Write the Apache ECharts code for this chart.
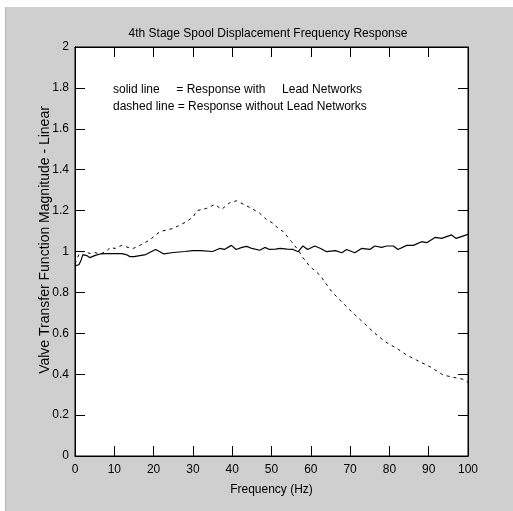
<!DOCTYPE html>
<html><head><meta charset="utf-8">
<script src="https://cdn.jsdelivr.net/npm/echarts@6/dist/echarts.min.js"></script>
<style>html,body{margin:0;padding:0;background:#fff}#c{width:513px;height:511px}</style>
</head><body><div id="c"></div>
<script>
var titleText = '4th Stage Spool Displacement Frequency Response';
var xName = 'Frequency (Hz)';
var yName = 'Valve Transfer Function Magnitude - Linear';
var legendLines = ['solid line     = Response with     Lead Networks', 'dashed line = Response without Lead Networks'];

var freqS = [0,1,1.6,2,3,3.8,5,6.4,8,10,11.9,13,14,15,16.5,18,19,20.5,21.5,22.6,25,28,29.9,32,35,36.8,38,39.8,41,42.5,43.7,45,47,48.3,49.5,51,52.2,54,55.5,56.8,58,59.2,61,62.5,64,66.3,67.9,69.1,71.2,72.9,75,76.3,78,79.3,81,82.2,84.4,86.1,88.2,89.5,91.6,93.3,95.8,97,99.6,100];
var valS = [0.93,0.935,0.96,0.985,0.98,0.97,0.98,0.988,0.99,0.99,0.99,0.985,0.975,0.975,0.98,0.985,0.995,1.01,1.0,0.988,0.995,1.0,1.004,1.004,1.0,1.015,1.01,1.03,1.01,1.02,1.025,1.015,1.006,1.02,1.01,1.012,1.015,1.012,1.01,0.999,1.027,1.01,1.027,1.015,0.999,1.004,0.994,1.01,0.994,1.015,1.01,1.027,1.02,1.027,1.027,1.01,1.03,1.03,1.048,1.043,1.069,1.064,1.081,1.064,1.081,1.085];

var freqD = [0,1.3,2.5,3.8,5,6.4,8,8.9,10.2,11.9,13.5,14.8,16.5,19,21.6,25,28.4,30.1,31,33.5,35.6,37.3,39.4,41.1,43.3,45,47,48.7,50.4,51.7,53,55.1,56.8,58,59.8,62.3,65.3,67.8,70.8,73.4,76.3,78.9,81.8,84.4,86.9,90.3,93.7,96.2,98.8,100];
var valD = [0.94,0.999,1.0,0.99,0.995,0.988,1.0,1.02,1.015,1.03,1.02,1.015,1.03,1.056,1.097,1.113,1.146,1.17,1.2,1.211,1.23,1.206,1.239,1.248,1.227,1.21,1.187,1.157,1.138,1.113,1.097,1.048,1.007,0.97,0.926,0.885,0.804,0.755,0.698,0.652,0.6,0.559,0.527,0.494,0.469,0.437,0.396,0.385,0.375,0.36];

function pairs(xs, ys){ return xs.map(function(x,i){ return [x, ys[i]]; }); }

var font = '"Liberation Sans", Arial, sans-serif';
function axisLine(){ return {show:true, onZero:false, lineStyle:{color:'#000', width:1}}; }
function tick(){ return {show:true, inside:true, length:10, lineStyle:{color:'#000', width:1}}; }

var chart = echarts.init(document.getElementById('c'), null, {renderer:'canvas'});
chart.setOption({
  backgroundColor: '#cfcfcf',
  animation: false,
  title: {
    text: titleText, left: 263, top: 23, textAlign: 'center',
    textStyle: {fontFamily: font, fontWeight: 'normal', fontSize: 12, color: '#000'}
  },
  graphic: [
    {type:'rect', shape:{x:0,y:0,width:513,height:7}, style:{fill:'#fff'}, z:-1, silent:true},
    {type:'rect', shape:{x:0,y:0,width:5,height:511}, style:{fill:'#fff'}, z:-1, silent:true},
    {type:'line', shape:{x1:5.5,y1:7,x2:5.5,y2:511}, style:{stroke:'#b8b8b8'}, z:-1, silent:true},
    {type:'text', left: 113, top: 84, z: 10, style:{text: legendLines[0], font: '12px ' + font, fill:'#000'}},
    {type:'text', left: 113, top: 101, z: 10, style:{text: legendLines[1], font: '12px ' + font, fill:'#000'}},
    {type:'text', x: 45, y: 240, rotation: Math.PI/2, z: 10,
     style:{text: yName, font: '14px ' + font, fill:'#000', textAlign:'center', textVerticalAlign:'middle'}}
  ],
  grid: {left: 75, right: 45, top: 47, bottom: 55, show: true, backgroundColor: '#fff', borderColor: '#000', borderWidth: 1},
  xAxis: [
    {type:'value', min:0, max:100, interval:10, position:'bottom', z: 5,
     name: xName, nameLocation:'middle', nameGap: 28,
     nameTextStyle:{fontFamily: font, fontSize: 12, color:'#000'},
     axisLine: axisLine(), axisTick: tick(), splitLine:{show:false},
     axisLabel:{fontFamily: font, fontSize: 12, color:'#000', margin: 8}},
    {type:'value', min:0, max:100, interval:10, position:'top', z: 5,
     axisLine: axisLine(), axisTick: tick(), splitLine:{show:false}, axisLabel:{show:false}}
  ],
  yAxis: [
    {type:'value', min:0, max:2, interval:0.2, position:'left', z: 5,
     axisLine: axisLine(), axisTick: tick(), splitLine:{show:false},
     axisLabel:{fontFamily: font, fontSize: 12, color:'#000', margin: 6,
       formatter: function(v){ return String(Math.round(v*10)/10); }}},
    {type:'value', min:0, max:2, interval:0.2, position:'right', z: 5,
     axisLine: axisLine(), axisTick: tick(), splitLine:{show:false}, axisLabel:{show:false}}
  ],
  series: [
    {type:'line', name:'with', data: pairs(freqS, valS), showSymbol:false, symbol:'none',
     lineStyle:{color:'#000', width:1.2}, z: 3},
    {type:'line', name:'without', data: pairs(freqD, valD), showSymbol:false, symbol:'none',
     lineStyle:{color:'#000', width:1, type:[3,4]}, z: 2}
  ]
});
</script>
</body></html>
